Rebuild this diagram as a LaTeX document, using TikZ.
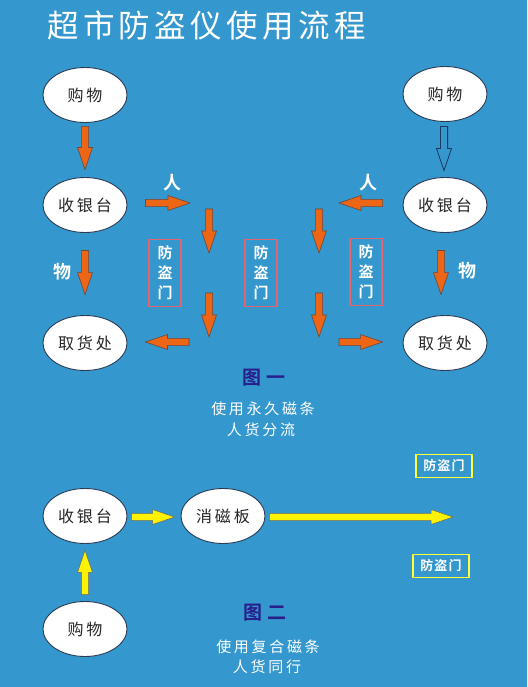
\documentclass[tikz,border=0pt]{standalone}
\usepackage{fontspec}
\setmainfont{Noto Sans CJK SC}
\newfontfamily\cjk{Noto Sans CJK SC}
\newfontfamily\cjksp[LetterSpace=18]{Noto Sans CJK SC}
\newfontfamily\cjkb[LetterSpace=8]{Noto Sans CJK SC Bold}
\newfontfamily\cjkbold{Noto Sans CJK SC Bold}
\usetikzlibrary{shapes.geometric,calc}
\definecolor{bgblue}{RGB}{52,151,205}
\definecolor{arrorange}{RGB}{236,102,22}
\definecolor{arroutline}{RGB}{110,70,60}
\definecolor{ellline}{RGB}{45,60,85}
\definecolor{doorred}{RGB}{226,100,110}
\definecolor{dooryel}{RGB}{255,255,60}
\definecolor{figblue}{RGB}{40,30,140}
\definecolor{hollowline}{RGB}{30,55,95}
\tikzset{
  oval/.style={ellipse, draw=ellline, line width=0.9pt, fill=white, minimum width=84pt, minimum height=55pt, inner sep=0pt, font=\cjksp\fontsize{16}{18}\selectfont, text=black!85},
  oarr/.style={fill=arrorange, draw=arroutline, line width=0.6pt, line join=miter},
  yarr/.style={fill=yellow, draw=black!60, line width=0.5pt, line join=miter},
  harr/.style={fill=bgblue, draw=hollowline, line width=0.8pt, line join=miter},
  reddoor/.style={draw=doorred, line width=1.4pt, minimum width=32pt, minimum height=67pt, inner sep=0pt, align=center, text=white, font=\cjkbold\fontsize{15}{20}\selectfont},
  yeldoor/.style={draw=dooryel, line width=1.6pt, minimum width=56pt, minimum height=23pt, inner sep=0pt, text=white, font=\cjkb\fontsize{13}{15}\selectfont},
  lbl/.style={text=white, font=\cjkbold\fontsize{18}{20}\selectfont, inner sep=0pt},
  figlbl/.style={text=figblue, font=\cjkbold\fontsize{19}{22}\selectfont, inner sep=0pt},
  captext/.style={text=white, font=\cjksp\fontsize{15}{18}\selectfont, inner sep=0pt},
}
% fat arrow: style, from, to
\newcommand\fatarrow[3]{%
  \coordinate (fa-h) at ($(#3)!22pt!(#2)$);
  \draw[#1] ($(#2)!3.6pt!90:(#3)$) -- ($(fa-h)!3.6pt!-90:(#2)$) -- ($(fa-h)!7.5pt!-90:(#2)$) -- (#3)
    -- ($(fa-h)!7.5pt!90:(#2)$) -- ($(fa-h)!3.6pt!90:(#2)$) -- ($(#2)!3.6pt!-90:(#3)$) -- cycle;
}
\begin{document}
\begin{tikzpicture}[x=1pt,y=1pt]
\fill[bgblue] (0,0) rectangle (527,-687);
\useasboundingbox (0,0) rectangle (527,-687);

% title
\node[anchor=west, text=white, inner sep=0pt, font={\fontspec[LetterSpace=14]{Noto Sans CJK SC}\fontsize{31.5}{36}\selectfont}] (title) at (47,-25) {超市防盗仪使用流程};

% figure one nodes
\node[oval] (gw1) at (85,-95) {购物};
\node[oval] (sy1) at (85,-205) {收银台};
\node[oval] (qh1) at (85,-343) {取货处};
\node[oval] (gw2) at (445,-94) {购物};
\node[oval] (sy2) at (445,-205) {收银台};
\node[oval] (qh2) at (445,-343) {取货处};

\node[reddoor] (door1) at (165,-273) {防\\盗\\门};
\node[reddoor] (door2) at (261,-273) {防\\盗\\门};
\node[reddoor] (door3) at (366,-272) {防\\盗\\门};

\node[lbl] (ren1) at (172,-183) {人};
\node[lbl] (ren2) at (368,-183) {人};
\node[lbl] (wu1) at (62,-272) {物};
\node[lbl] (wu2) at (467,-271) {物};

\node[figlbl] (fig1) at (264,-378) {图\hspace{6pt}一};
\node[captext] (cap1a) at (263,-409) {使用永久磁条};
\node[captext] (cap1b) at (261,-430) {人货分流};

% figure one arrows
\coordinate (a1s) at ($(gw1.south)+(0,-3.5pt)$);
\coordinate (a1e) at ($(sy1.north)+(0,7.5pt)$);
\fatarrow{oarr}{a1s}{a1e}
\coordinate (a2s) at ($(sy1.south)+(0,-17.5pt)$);
\coordinate (a2e) at ($(qh1.north)+(0,20.5pt)$);
\fatarrow{oarr}{a2s}{a2e}
\coordinate (a3s) at ($(gw2.south)+(-1pt,-4.5pt)$);
\coordinate (a3e) at ($(sy2.north)+(-1pt,6.5pt)$);
\fatarrow{harr}{a3s}{a3e}
\coordinate (a4s) at ($(sy2.south)+(-4pt,-17.5pt)$);
\coordinate (a4e) at ($(qh2.north)+(-4pt,20.5pt)$);
\fatarrow{oarr}{a4s}{a4e}

\coordinate (h1s) at ($(sy1.east)+(18pt,2pt)$);
\coordinate (h1e) at (190,-203);
\fatarrow{oarr}{h1s}{h1e}
\coordinate (h2s) at ($(sy2.west)+(-20pt,2pt)$);
\coordinate (h2e) at (339,-203);
\fatarrow{oarr}{h2s}{h2e}

\coordinate (v1s) at (209,-209);
\coordinate (v1e) at (209,-253);
\fatarrow{oarr}{v1s}{v1e}
\coordinate (v2s) at (209,-293);
\coordinate (v2e) at (209,-337);
\fatarrow{oarr}{v2s}{v2e}
\coordinate (v3s) at (319,-209);
\coordinate (v3e) at (319,-253);
\fatarrow{oarr}{v3s}{v3e}
\coordinate (v4s) at (319,-293);
\coordinate (v4e) at (319,-337);
\fatarrow{oarr}{v4s}{v4e}

\coordinate (b1s) at (189,-342);
\coordinate (b1e) at ($(qh1.east)+(18pt,1pt)$);
\fatarrow{oarr}{b1s}{b1e}
\coordinate (b2s) at (339,-342);
\coordinate (b2e) at ($(qh2.west)+(-20pt,1pt)$);
\fatarrow{oarr}{b2s}{b2e}

% figure two
\node[oval] (sy3) at (85,-516) {收银台};
\node[oval] (xc) at (223,-516) {消磁板};
\node[oval] (gw3) at (85,-629) {购物};
\node[yeldoor] (yd1) at (444,-466) {防盗门};
\node[yeldoor] (yd2) at (441,-566) {防盗门};

\coordinate (y1s) at ($(sy3.east)+(4pt,-1pt)$);
\coordinate (y1e) at ($(xc.west)+(-6pt,-1pt)$);
\fatarrow{yarr}{y1s}{y1e}
\coordinate (y2s) at ($(xc.east)+(4pt,-1pt)$);
\coordinate (y2e) at (453,-517);
\fatarrow{yarr}{y2s}{y2e}
\coordinate (y3s) at ($(gw3.north)+(0,6.5pt)$);
\coordinate (y3e) at ($(sy3.south)+(0,-6.5pt)$);
\fatarrow{yarr}{y3s}{y3e}

\node[figlbl] (fig2) at (265,-613) {图\hspace{6pt}二};
\node[captext] (cap2a) at (268,-647) {使用复合磁条};
\node[captext] (cap2b) at (267,-667) {人货同行};
\end{tikzpicture}
\end{document}
